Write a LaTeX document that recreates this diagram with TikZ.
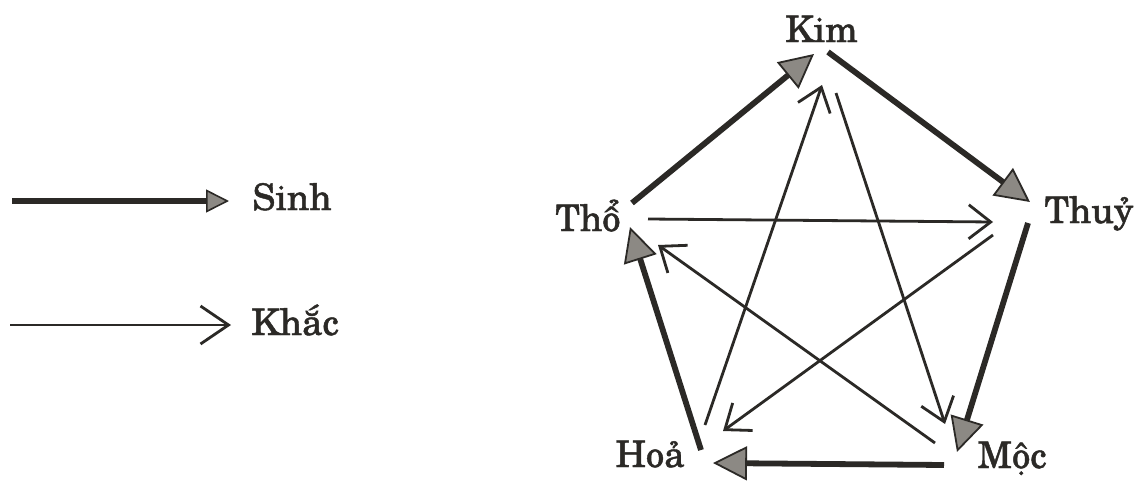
\documentclass[tikz,border=0pt]{standalone}
\usepackage{fontspec}
\setmainfont{TeX Gyre Schola}[FakeBold=1.2]
\usetikzlibrary{arrows.meta}
\definecolor{ink}{HTML}{2B2926}
\definecolor{headgray}{HTML}{8C8984}
\begin{document}
\begin{tikzpicture}[x=0.5pt,y=-0.5pt,
  lbl/.style={font=\fontsize{18.3}{22}\selectfont, inner sep=0pt, anchor=base, text=ink},
  sinh/.style={draw=ink, line width=2.9pt, -{Triangle[length=17pt,width=17pt,fill=headgray,line width=0.9pt]}},
  sinhlg/.style={draw=ink, line width=3pt, -{Triangle[length=11.5pt,width=11.5pt,fill=headgray,line width=0.8pt]}},
  khac/.style={draw=ink, line width=1.4pt, -{Straight Barb[length=11pt,width=17pt,line width=1.4pt]}},
  khaclg/.style={draw=ink, line width=1.4pt, -{Straight Barb[length=14pt,width=19pt,line width=1.4pt]}}]
\useasboundingbox (0,0) rectangle (1147,482);
\fill[white] (0,0) rectangle (1147,482);

% labels
\node[lbl] (kim)  at (821.5,42) {Kim};
\node[lbl] (tho)  at (588,231)  {Thổ};
\node[lbl] (thuy) at (1089,223) {Thuỷ};
\node[lbl] (hoa)  at (650,467)  {Hoả};
\node[lbl] (moc)  at (1012,468) {Mộc};
\node[lbl] (sinhl) at (292,210) {Sinh};
\node[lbl] (khacl) at (295,335) {Khắc};

% legend
\coordinate (ls1) at (12,201);
\coordinate (ls2) at (229,201);
\coordinate (lk1) at (10,325);
\coordinate (lk2) at (231,325);
\draw[sinhlg] (ls1) -- (ls2);
\draw[khaclg] (lk1) -- (lk2);

% endpoints
\coordinate (thoKimA) at (632,203);  \coordinate (thoKimB) at (814,54);
\coordinate (kimThuyA) at (828,52);  \coordinate (kimThuyB) at (1030,202);
\coordinate (thuyMocA) at (1028,223);\coordinate (thuyMocB) at (957,452);
\coordinate (mocHoaA) at (944,465);  \coordinate (mocHoaB) at (713,463);
\coordinate (hoaThoA) at (701,450);  \coordinate (hoaThoB) at (630,227);

\coordinate (thoThuyA) at (648,219); \coordinate (thoThuyB) at (993,222);
\coordinate (thuyHoaA) at (993,235); \coordinate (thuyHoaB) at (723,431);
\coordinate (hoaKimA) at (705,425);  \coordinate (hoaKimB) at (822,85);
\coordinate (kimMocA) at (836,93);   \coordinate (kimMocB) at (945,424);
\coordinate (mocThoA) at (935,443);  \coordinate (mocThoB) at (658,245);

% Khac
\draw[khac] (thoThuyA) -- (thoThuyB);
\draw[khac] (thuyHoaA) -- (thuyHoaB);
\draw[khac] (hoaKimA) -- (hoaKimB);
\draw[khac] (kimMocA) -- (kimMocB);
\draw[khac] (mocThoA) -- (mocThoB);

% Sinh
\draw[sinh] (thoKimA) -- (thoKimB);
\draw[sinh] (kimThuyA) -- (kimThuyB);
\draw[sinh] (thuyMocA) -- (thuyMocB);
\draw[sinh] (mocHoaA) -- (mocHoaB);
\draw[sinh] (hoaThoA) -- (hoaThoB);
\end{tikzpicture}
\end{document}
